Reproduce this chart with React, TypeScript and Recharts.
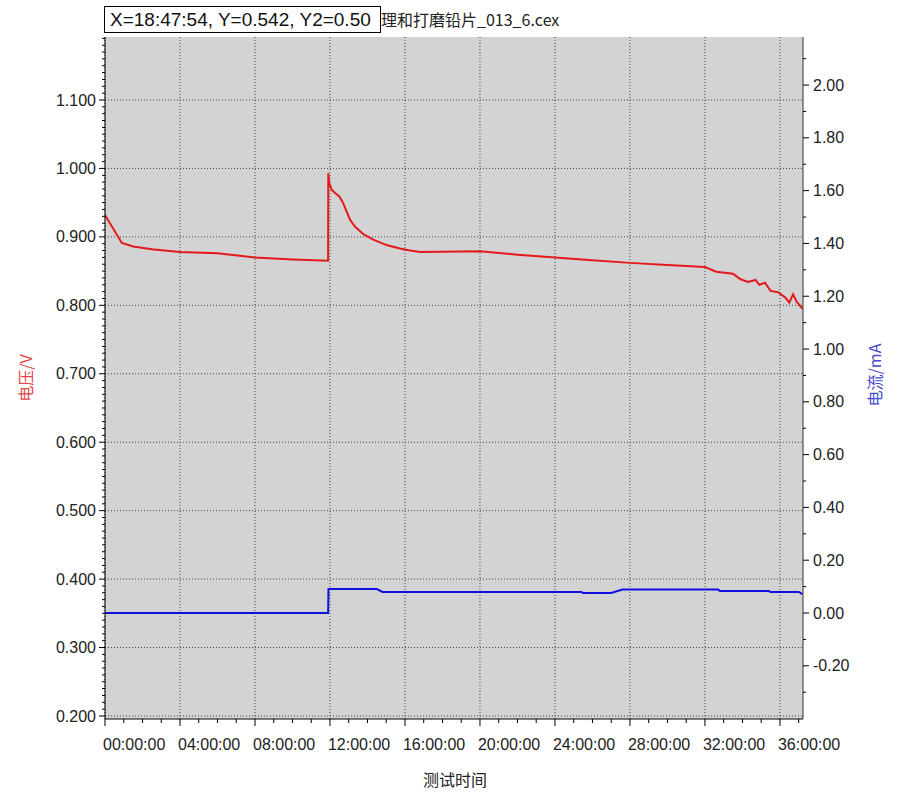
import React from "react";
import { LineChart, Line, XAxis, YAxis, CartesianGrid } from "recharts";

// time in hours
const voltageTimes = [
  0, 0.15, 0.9, 1.5, 2.5, 4, 6, 8, 10, 11.9, 11.91, 11.96, 12.09, 12.27, 12.5, 12.71, 12.89, 13.07,
  13.33, 13.78, 14.31, 15.02, 15.73, 16.27, 16.8, 20, 22, 24, 26, 28, 30, 32, 32.6, 33.5, 33.9, 34.3,
  34.7, 34.9, 35.2, 35.5, 35.9, 36.3, 36.5, 36.7, 36.9, 37.2,
];
const voltageValues = [
  0.932, 0.925, 0.891, 0.886, 0.882, 0.878, 0.876, 0.87, 0.867, 0.865, 0.993, 0.979, 0.969, 0.964,
  0.959, 0.949, 0.937, 0.925, 0.915, 0.904, 0.896, 0.888, 0.883, 0.88, 0.878, 0.879, 0.874, 0.87,
  0.866, 0.862, 0.859, 0.856, 0.849, 0.846, 0.838, 0.834, 0.837, 0.83, 0.833, 0.821, 0.819, 0.811,
  0.804, 0.816, 0.805, 0.795,
];

const currentTimes = [0, 11.9, 11.92, 14.5, 14.8, 25.4, 25.5, 27.0, 27.6, 32.7, 32.8, 35.4, 35.5, 37.0, 37.2];
const currentValues = [0, 0, 0.091, 0.091, 0.08, 0.08, 0.076, 0.076, 0.089, 0.089, 0.083, 0.083, 0.08, 0.08, 0.072];

const xMajorTicks = [0, 4, 8, 12, 16, 20, 24, 28, 32, 36];
const xTickLabels = [
  "00:00:00", "04:00:00", "08:00:00", "12:00:00", "16:00:00",
  "20:00:00", "24:00:00", "28:00:00", "32:00:00", "36:00:00",
];
const leftMajorTicks = [0.2, 0.3, 0.4, 0.5, 0.6, 0.7, 0.8, 0.9, 1.0, 1.1];
const rightMajorTicks = [-0.2, 0, 0.2, 0.4, 0.6, 0.8, 1.0, 1.2, 1.4, 1.6, 1.8, 2.0];

const X_DOMAIN: [number, number] = [0, 37.23];
const LEFT_DOMAIN: [number, number] = [0.1956, 1.192];
const RIGHT_DOMAIN: [number, number] = [-0.4015, 2.182];

const voltageData = voltageTimes.map((t, i) => ({ t, v: voltageValues[i] }));
const currentData = currentTimes.map((t, i) => ({ t, a: currentValues[i] }));

// minor tick positions
const range = (from: number, to: number, step: number) => {
  const out: number[] = [];
  for (let k = Math.round(from / step); k * step <= to + 1e-9; k++) out.push(+(k * step).toFixed(4));
  return out;
};
const xTicks = range(0, 37, 1);
const leftTicks = range(0.2, 1.19, 0.01);
const rightTicks = range(-0.3, 2.1, 0.1);

const isIn = (list: number[], v: number) => list.some((m) => Math.abs(m - v) < 1e-6);

const font = "'Liberation Sans', Arial, sans-serif";

const XTick = (props: any) => {
  const { x, y, payload } = props;
  const idx = xMajorTicks.indexOf(payload.value);
  const major = idx >= 0;
  return (
    <g>
      <line x1={x} x2={x} y1={y} y2={y + (major ? 7 : 4)} stroke="#000" />
      {major && (
        <text x={x - 2} y={y + 31} textAnchor="start" fontSize={16} fill="#222" fontFamily={font}>
          {xTickLabels[idx]}
        </text>
      )}
    </g>
  );
};

const LeftTick = (props: any) => {
  const { x, y, payload } = props;
  const major = isIn(leftMajorTicks, payload.value);
  return (
    <g>
      <line x1={x} x2={x - (major ? 6 : 3)} y1={y} y2={y} stroke="#000" />
      {major && (
        <text x={x - 9} y={y} dy="0.35em" textAnchor="end" fontSize={16} fill="#222" fontFamily={font}>
          {payload.value.toFixed(3)}
        </text>
      )}
    </g>
  );
};

const RightTick = (props: any) => {
  const { x, y, payload } = props;
  const major = isIn(rightMajorTicks, payload.value);
  return (
    <g>
      <line x1={x} x2={x + (major ? 6 : 3)} y1={y} y2={y} stroke="#000" />
      {major && (
        <text x={x + 10} y={y} dy="0.35em" textAnchor="start" fontSize={16} fill="#222" fontFamily={font}>
          {payload.value.toFixed(2)}
        </text>
      )}
    </g>
  );
};

export default function App() {
  return (
    <div style={{ position: "absolute", left: 0, top: 0, width: 900, height: 809, background: "#fff" }}>
      <LineChart width={900} height={809} margin={{ top: 37, right: 0, bottom: 0, left: 0 }}>
        <CartesianGrid
          xAxisId="x"
          yAxisId="left"
          horizontalValues={leftMajorTicks}
          verticalValues={xMajorTicks}
          stroke="#444"
          strokeDasharray="1 2"
          fill="#d3d3d3"
          fillOpacity={1}
        />
        <XAxis
          xAxisId="top"
          orientation="top"
          type="number"
          domain={X_DOMAIN}
          allowDataOverflow
          height={0}
          tick={false}
          tickLine={false}
          axisLine={{ stroke: "#000" }}
        />
        <XAxis
          xAxisId="x"
          dataKey="t"
          type="number"
          domain={X_DOMAIN}
          allowDataOverflow
          ticks={xTicks}
          interval={0}
          height={90}
          tickSize={0}
          tickMargin={0}
          tickLine={false}
          tick={<XTick />}
          axisLine={{ stroke: "#000" }}
        />
        <YAxis
          yAxisId="left"
          orientation="left"
          type="number"
          domain={LEFT_DOMAIN}
          allowDataOverflow
          ticks={leftTicks}
          interval={0}
          width={105}
          tickSize={0}
          tickMargin={0}
          tickLine={false}
          tick={<LeftTick />}
          axisLine={{ stroke: "#000" }}
        />
        <YAxis
          yAxisId="right"
          orientation="right"
          type="number"
          domain={RIGHT_DOMAIN}
          allowDataOverflow
          ticks={rightTicks}
          interval={0}
          width={97}
          tickSize={0}
          tickMargin={0}
          tickLine={false}
          tick={<RightTick />}
          axisLine={{ stroke: "#333" }}
        />
        <Line
          xAxisId="x"
          yAxisId="right"
          data={currentData}
          dataKey="a"
          type="linear"
          stroke="#1010e0"
          strokeWidth={2}
          dot={false}
          isAnimationActive={false}
        />
        <Line
          xAxisId="x"
          yAxisId="left"
          data={voltageData}
          dataKey="v"
          type="linear"
          stroke="#e31a1c"
          strokeWidth={2}
          dot={false}
          isAnimationActive={false}
        />
      </LineChart>

      {/* title, partly hidden behind the cursor readout box */}
      <div
        style={{
          position: "absolute", left: 381, top: 8, fontSize: 16, fontFamily: "'Noto Sans CJK SC', " + font,
          color: "#222", lineHeight: "22px", whiteSpace: "nowrap",
        }}
      >
        理和打磨铅片_013_6.cex
      </div>
      <div
        style={{
          position: "absolute", left: 104, top: 6, width: 270, height: 25, border: "1px solid #000",
          background: "#fff", fontSize: 19, fontFamily: font, color: "#111", lineHeight: "25px",
          paddingLeft: 5, whiteSpace: "nowrap",
        }}
      >
        X=18:47:54, Y=0.542, Y2=0.50
      </div>

      {/* axis titles */}
      <div
        style={{
          position: "absolute", left: 25, top: 378, transform: "translate(-50%, -50%) rotate(-90deg)",
          fontSize: 16, color: "#e04848", fontFamily: "'Noto Sans CJK SC', sans-serif", whiteSpace: "nowrap",
        }}
      >
        电压/V
      </div>
      <div
        style={{
          position: "absolute", left: 874, top: 375, transform: "translate(-50%, -50%) rotate(-90deg)",
          fontSize: 16, color: "#4a4ad0", fontFamily: "'Noto Sans CJK SC', sans-serif", whiteSpace: "nowrap",
        }}
      >
        电流/mA
      </div>
      <div
        style={{
          position: "absolute", left: 455, top: 779, transform: "translate(-50%, -50%)",
          fontSize: 16, color: "#222", fontFamily: "'Noto Sans CJK SC', sans-serif", whiteSpace: "nowrap",
        }}
      >
        测试时间
      </div>
    </div>
  );
}
